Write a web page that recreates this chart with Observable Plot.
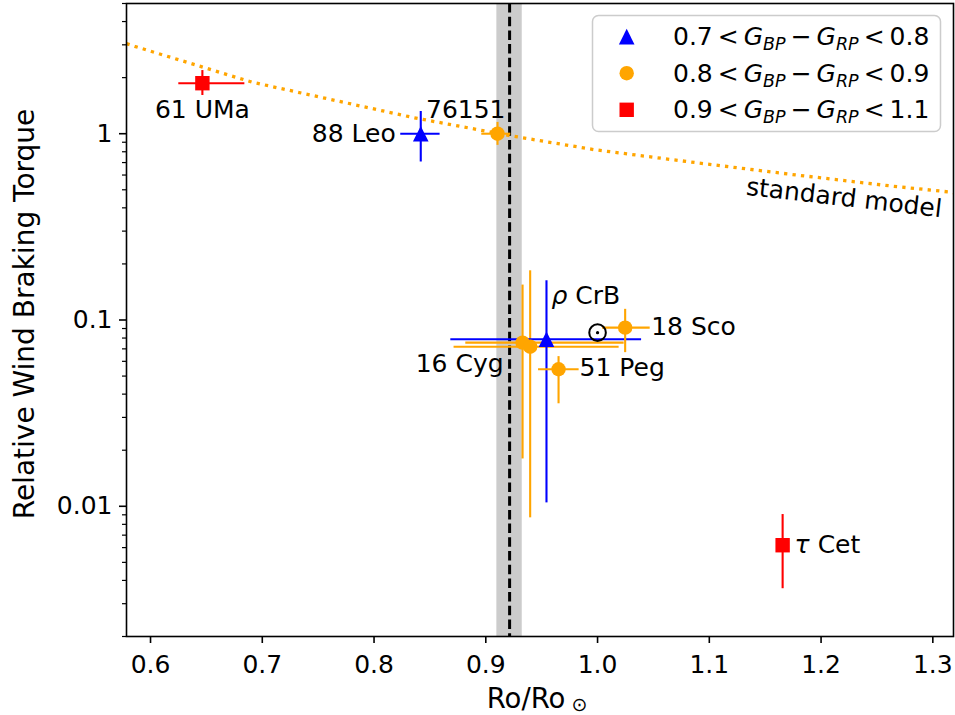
<!DOCTYPE html>
<html>
<head>
<meta charset="utf-8">
<script src="https://cdn.jsdelivr.net/npm/d3@7"></script>
<script src="https://cdn.jsdelivr.net/npm/@observablehq/plot@0.6"></script>
<style>
  html, body { margin: 0; padding: 0; background: #fff; }
  #chart { width: 955px; height: 715px; }
</style>
</head>
<body>
<div id="chart"></div>
<script>
// ---------------- data ----------------
const stars     = ["61 UMa", "88 Leo", "76151", "16 Cyg A", "16 Cyg B", "ρ CrB", "18 Sco", "51 Peg", "τ Cet"];
const starGroup = [2, 0, 1, 1, 1, 0, 1, 1, 2];
const ro        = [0.6464, 0.8418, 0.9105, 0.9329, 0.9397, 0.9543, 1.0247, 0.9651, 1.1656];
const roLo      = [0.6253, 0.8239, 0.8964, 0.8821, 0.8716, 0.8687, 1.0045, 0.9472, 1.1656];
const roHi      = [0.6844, 0.8591, 0.9224, 1.0238, 1.0193, 1.0394, 1.0471, 0.9835, 1.1656];
const torque    = [1.867, 1.0, 1.0, 0.0756, 0.0719, 0.0788, 0.0910, 0.0544, 0.00618];
const torqueLo  = [1.604, 0.705, 0.866, 0.01795, 0.00867, 0.01043, 0.0668, 0.0355, 0.00361];
const torqueHi  = [2.183, 1.316, 1.150, 0.154, 0.1837, 0.1624, 0.1141, 0.0636, 0.00903];

// labels (one per labelled star)
const labelText = ["61 UMa", "88 Leo", "76151", "16 Cyg", "ρ CrB", "18 Sco", "51 Peg", "τ Cet"];
const labelStar = [0, 1, 2, 3, 5, 6, 7, 8];

// colour groups (G_BP - G_RP)
const groupLo    = ["0.7", "0.8", "0.9"];
const groupHi    = ["0.8", "0.9", "1.1"];
const groupColor = ["blue", "orange", "red"];

// the Sun
const sunRo = [1.0];
const sunTorque = [0.0855];

// standard model curve
const modelRo     = [0.5785, 0.5858, 0.650, 0.6911, 0.8358, 0.9239, 0.997, 1.0835, 1.1731, 1.2626, 1.3148, 1.3185];
const modelTorque = [3.045, 2.945, 2.246, 1.889, 1.218, 0.971, 0.821, 0.7046, 0.605, 0.524, 0.4865, 0.482];
const modelLabel = "standard model";

// critical Rossby number with band
const roCrit = [0.9213];
const roCritLo = [0.9099];
const roCritHi = [0.9326];

// axes
const xTicks = [0.6, 0.7, 0.8, 0.9, 1.0, 1.1, 1.2, 1.3];
const xTickLabels = ["0.6", "0.7", "0.8", "0.9", "1.0", "1.1", "1.2", "1.3"];
const yTicks = [0.01, 0.1, 1];
const yTickLabels = ["0.01", "0.1", "1"];
const yMinor = [0.002,0.003,0.004,0.005,0.006,0.007,0.008,0.009,
                0.02,0.03,0.04,0.05,0.06,0.07,0.08,0.09,
                0.2,0.3,0.4,0.5,0.6,0.7,0.8,0.9,2,3,4,5];
const xLabel = "Ro/Ro";
const xLabelSub = "⊙";
const yLabel = "Relative Wind Braking Torque";

// ---------------- build ----------------
const rows = stars.map((s, i) => ({
  name: s, g: starGroup[i], color: groupColor[starGroup[i]],
  x: ro[i], xl: roLo[i], xh: roHi[i],
  y: torque[i], yl: torqueLo[i], yh: torqueHi[i]
}));
const model = modelRo.map((x, i) => ({x, y: modelTorque[i]}));
const crit = roCrit.map((x, i) => ({x, lo: roCritLo[i], hi: roCritHi[i]}));
const sun = sunRo.map((x, i) => ({x, y: sunTorque[i]}));

// matplotlib-like markers: r = half width
const triUp = {draw(ctx, size) { const a = Math.sqrt(size / Math.PI); ctx.moveTo(0, -a); ctx.lineTo(a, a); ctx.lineTo(-a, a); ctx.closePath(); }};
const square = {draw(ctx, size) { const a = Math.sqrt(size / Math.PI); ctx.rect(-a, -a, 2 * a, 2 * a); }};
const circle = {draw(ctx, size) { const a = Math.sqrt(size / Math.PI); ctx.moveTo(a, 0); ctx.arc(0, 0, a, 0, 2 * Math.PI); }};
const groupSymbol = [triUp, circle, square];
const groupR = [7.8, 7.2, 7.2];

// label placement (pixels relative to the star)
const labelStyle = {
  "61 UMa": {dx: 0, dy: 27, textAnchor: "middle"},
  "88 Leo": {dx: -25, dy: 0, textAnchor: "end"},
  "76151": {dx: 8, dy: -24, textAnchor: "end"},
  "16 Cyg": {dx: -19, dy: 21, textAnchor: "end"},
  "ρ CrB": {dx: 5, dy: -43, textAnchor: "start"},
  "18 Sco": {dx: 26, dy: -1, textAnchor: "start"},
  "51 Peg": {dx: 21, dy: -1, textAnchor: "start"},
  "τ Cet": {dx: 12, dy: 0, textAnchor: "start"}
};

const labelMarks = labelText.map((t, k) => {
  const s = rows[labelStar[k]];
  const st = labelStyle[t];
  return Plot.text([s], {x: "x", y: "y", text: () => t, dx: st.dx, dy: st.dy,
    textAnchor: st.textAnchor, lineAnchor: "middle", fontSize: 25, fill: "black"});
});

const errMarks = [];
const dotMarks = [];
rows.forEach((r) => {
  if (r.xh > r.xl) errMarks.push(Plot.ruleY([r], {y: "y", x1: "xl", x2: "xh", stroke: "color", strokeWidth: 2.1}));
  errMarks.push(Plot.ruleX([r], {x: "x", y1: "yl", y2: "yh", stroke: "color", strokeWidth: 2.1}));
});
groupColor.forEach((c, g) => {
  dotMarks.push(Plot.dot(rows.filter(d => d.g === g), {x: "x", y: "y", symbol: groupSymbol[g], r: groupR[g], fill: c, stroke: "none"}));
});

const svg = Plot.plot({
  width: 955, height: 715,
  marginLeft: 126, marginRight: 2, marginTop: 3, marginBottom: 79,
  style: {fontFamily: "DejaVu Sans", fontSize: "25px", background: "white", color: "black"},
  x: {type: "linear", domain: [0.5785, 1.3185]},
  y: {type: "log", domain: [0.002, 5]},
  color: {type: "identity"},
  marks: [
    Plot.rect(crit, {x1: "lo", x2: "hi", fill: "#cccccc"}),
    Plot.ruleX(crit, {x: "x", stroke: "black", strokeWidth: 3, strokeDasharray: "9.5,4.2", strokeLinecap: "butt"}),
    Plot.line(model, {x: "x", y: "y", stroke: "orange", strokeWidth: 3.3, strokeDasharray: "3.3,5.2", strokeLinecap: "butt", clip: true}),
    Plot.text([model[9]], {x: "x", y: "y", text: () => modelLabel, dx: -47, dy: 12, rotate: 6.6, fontSize: 25, fill: "black", textAnchor: "middle", lineAnchor: "middle"}),
    ...errMarks,
    ...dotMarks,
    Plot.dot(sun, {x: "x", y: "y", r: 8.3, stroke: "black", strokeWidth: 2, fill: "none"}),
    Plot.dot(sun, {x: "x", y: "y", r: 1.6, fill: "black"}),
    ...labelMarks,
    Plot.axisX({ticks: xTicks, tickFormat: d => xTickLabels[xTicks.findIndex(t => Math.abs(t - d) < 1e-9)], tickSize: 7, tickPadding: 12, fontSize: 25, strokeWidth: 1.6, label: null}),
    Plot.axisY({ticks: yTicks, tickFormat: d => yTickLabels[yTicks.findIndex(t => Math.abs(t - d) < 1e-12)], tickSize: 7, tickPadding: 7, fontSize: 25, strokeWidth: 1.6, label: null}),
    Plot.axisY({ticks: yMinor, tickFormat: () => "", tickSize: 4, strokeWidth: 1.2, label: null}),
    Plot.frame({stroke: "black", strokeWidth: 1.6})
  ]
});

const root = d3.select(svg);

// italic Greek letters in labels
root.selectAll("text").each(function() {
  const el = d3.select(this);
  const t = el.text();
  if (/^[ρτ] /.test(t)) {
    el.text(null);
    el.append("tspan").attr("font-style", "italic").text(t[0]);
    el.append("tspan").text(t.slice(1));
  }
});

// axis titles
const xl = root.append("text").attr("x", 537).attr("y", 708).attr("text-anchor", "middle")
  .attr("font-family", "DejaVu Sans").attr("font-size", 27.5).attr("fill", "black");
xl.append("tspan").text(xLabel);
xl.append("tspan").attr("dx", 6).attr("dy", 3).attr("font-size", 19).text(xLabelSub);

root.append("text").attr("transform", "translate(33.5,314) rotate(-90)").attr("text-anchor", "middle")
  .attr("font-family", "DejaVu Sans").attr("font-size", 28).attr("fill", "black").text(yLabel);

// legend
const lg = root.append("g").attr("font-family", "DejaVu Sans").attr("font-size", 25).attr("fill", "black")
  .attr("text-anchor", "start");
lg.append("rect").attr("x", 592.5).attr("y", 15.5).attr("width", 348).attr("height", 116).attr("rx", 6)
  .attr("fill", "white").attr("fill-opacity", 0.8).attr("stroke", "#cccccc").attr("stroke-width", 1.5);
groupLo.forEach((lo, i) => {
  const cy = 36.6 + i * 36.6;
  lg.append("path").attr("transform", `translate(626.7,${cy})`)
    .attr("d", d3.symbol(groupSymbol[i], Math.PI * groupR[i] * groupR[i])())
    .attr("fill", groupColor[i]);
  const t = lg.append("text").attr("x", 673).attr("y", cy + 8.6).attr("text-anchor", "start");
  t.append("tspan").text(`${lo}\u2009<\u2009`);
  t.append("tspan").attr("font-style", "italic").text("G");
  t.append("tspan").attr("font-style", "italic").attr("font-size", 17.5).attr("dy", 5).text("BP");
  t.append("tspan").attr("dy", -5).text("\u2009\u2212\u2009");
  t.append("tspan").attr("font-style", "italic").text("G");
  t.append("tspan").attr("font-style", "italic").attr("font-size", 17.5).attr("dy", 5).text("RP");
  t.append("tspan").attr("dy", -5).text(`\u2009<\u2009${groupHi[i]}`);
});

document.getElementById("chart").appendChild(svg);
</script>
</body>
</html>
